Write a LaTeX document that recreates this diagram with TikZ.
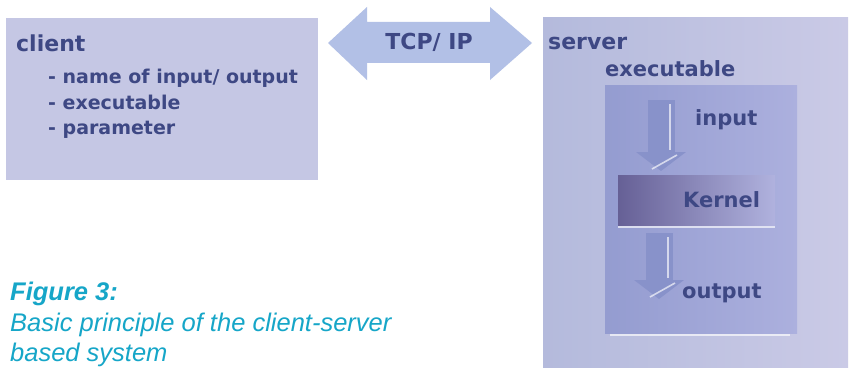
\documentclass[tikz,border=0pt]{standalone}
\usepackage{fontspec}
\setmainfont{DejaVu Sans}
\newfontfamily\capfont{Liberation Sans}
\usetikzlibrary{arrows.meta}
\definecolor{txt}{RGB}{62,72,132}
\definecolor{clientfill}{RGB}{197,199,228}
\definecolor{srvleft}{RGB}{180,186,220}
\definecolor{srvright}{RGB}{202,202,230}
\definecolor{innerleft}{RGB}{148,156,208}
\definecolor{innerright}{RGB}{172,176,222}
\definecolor{kdark}{RGB}{102,96,150}
\definecolor{kmid}{RGB}{150,150,205}
\definecolor{klight}{RGB}{176,178,222}
\definecolor{tcpfill}{RGB}{178,192,230}
\definecolor{arrfill}{RGB}{136,146,202}
\definecolor{capcol}{RGB}{22,166,200}
\tikzset{
  box/.style={anchor=north west, inner sep=0pt, outer sep=0pt, draw=none},
  lbl/.style={anchor=base west, inner sep=0pt, text=txt, font=\bfseries\fontsize{#1}{#1}\selectfont},
  lbl/.default=19,
  caption/.style={anchor=base west, inner sep=0pt, text=capcol, font=\capfont\itshape\fontsize{25.5}{25.5}\selectfont},
  flow/.style={draw=arrfill, line width=27pt, -{Triangle[width=49pt,length=19pt]}},
  shine/.style={draw=white, opacity=0.65, line width=1.6pt}
}
\begin{document}
\begin{tikzpicture}[x=1pt,y=-1pt]
\useasboundingbox (0,0) rectangle (851,369);
\fill[white] (0,0) rectangle (851,369);

% client box
\node[box, fill=clientfill, minimum width=312pt, minimum height=162pt] (clientbox) at (6,18) {};
\node[lbl=22] (client) at (16,52) {client};
\node[lbl] (it1) at (48,84) {- name of input/ output};
\node[lbl] (it2) at (48,109) {- executable};
\node[lbl] (it3) at (48,134) {- parameter};

% server box
\node[box, left color=srvleft, right color=srvright, minimum width=305pt, minimum height=349pt] (serverbox) at (543,18) {};
\node[lbl=22] (server) at (548,50) {server};
\node[lbl=21] (exe) at (605,77) {executable};
\node[box, left color=innerleft, right color=innerright, minimum width=192pt, minimum height=248pt] (inner) at (605,85) {};
\draw[shine] (610,335) -- (790,335);

% TCP/IP double arrow
\fill[tcpfill] (328,43) -- (367,7) -- (367,22) -- (490,22) -- (490,7) -- (532,43)
  -- (490,80) -- (490,63) -- (367,63) -- (367,80) -- cycle;
\node[lbl=22, anchor=base] (tcp) at (429,50) {TCP/ IP};

% kernel bar
\node[box, left color=kdark, middle color=kmid, right color=klight, minimum width=157pt, minimum height=50pt] (kbar) at (618,175) {};
\draw[shine] (kbar.south west) ++(0,2) -- ++(157,0);
\node[lbl=21] (kernel) at (683,207) {Kernel};

% input / output labels
\node[lbl=21] (input) at (695,125) {input};
\node[lbl=21] (output) at (682,298) {output};

% flow arrows
\coordinate (a1s) at (661,100);
\coordinate (a1e) at (661,171);
\coordinate (a2s) at (659,233);
\coordinate (a2e) at (659,299);
\draw[flow] (a1s) -- (a1e);
\draw[flow] (a2s) -- (a2e);
\draw[shine] (670,104) -- (670,150);
\draw[shine] (652,169) -- (677,155);
\draw[shine] (668,237) -- (668,278);
\draw[shine] (650,297) -- (675,283);

% caption
\node[caption, font=\capfont\bfseries\itshape\fontsize{25.5}{25.5}\selectfont] (fig) at (10,300) {Figure 3:};
\node[caption] (cap1) at (10,331) {Basic principle of the client-server};
\node[caption] (cap2) at (10,361) {based system};
\end{tikzpicture}
\end{document}
